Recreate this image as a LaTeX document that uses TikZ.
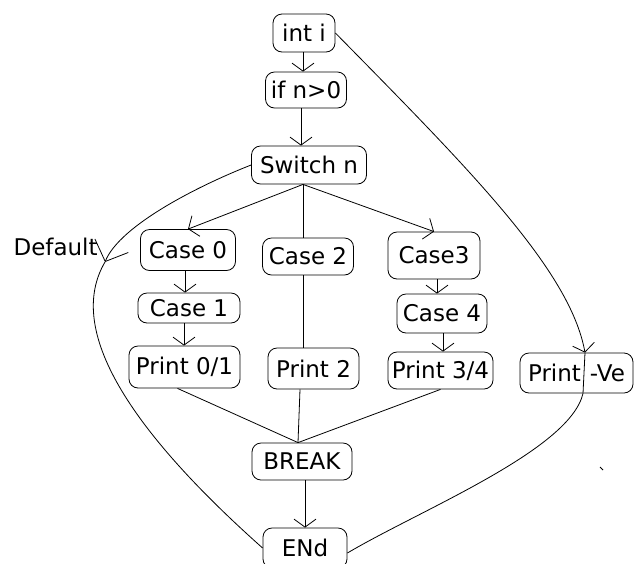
\documentclass[tikz,border=0pt]{standalone}
\usepackage{fontspec}
\setmainfont{DejaVu Sans}
\usetikzlibrary{arrows.meta}
\begin{document}
\begin{tikzpicture}[x=1pt,y=-1pt, line width=0.8pt,
  box/.style={draw, rounded corners=9pt, inner sep=0pt, font=\fontsize{23}{27}\selectfont},
  lbl/.style={inner sep=0pt, font=\fontsize{23}{27}\selectfont},
  arr/.style={-{Straight Barb[length=8pt,width=22pt]}},
  arrbig/.style={-{Straight Barb[length=17pt,width=36pt]}}]
\useasboundingbox (0,0) rectangle (634,563);
% nodes
\node[box, minimum width=62pt, minimum height=38pt] (inti) at (304,33) {int i};
\node[box, minimum width=81pt, minimum height=36pt] (ifn) at (306,90) {if n>0};
\node[box, minimum width=115pt, minimum height=38pt] (sw) at (309,165) {Switch n};
\node[box, minimum width=95pt, minimum height=41pt] (c0) at (188,250) {Case 0};
\node[box, minimum width=102pt, minimum height=30pt] (c1) at (189,308) {Case 1};
\node[box, minimum width=111pt, minimum height=42pt] (p01) at (184.5,367) {Print 0/1};
\node[box, minimum width=91pt, minimum height=37pt] (c2) at (308,256.5) {Case 2};
\node[box, minimum width=91pt, minimum height=41pt] (p2) at (313.5,368.5) {Print 2};
\node[box, minimum width=92pt, minimum height=47pt] (c3) at (434,255.5) {Case3};
\node[box, minimum width=90pt, minimum height=39pt] (c4) at (442,313.5) {Case 4};
\node[box, minimum width=105pt, minimum height=37pt] (p34) at (440.5,370.5) {Print 3/4};
\node[box, minimum width=113pt, minimum height=40pt] (pve) at (576.5,373) {Print\hspace{9pt}-Ve};
\node[box, minimum width=100pt, minimum height=37pt] (brk) at (302,461.5) {BREAK};
\node[box, minimum width=84pt, minimum height=40pt] (end) at (305,548) {ENd};
\node[lbl, anchor=east] (dl) at (98,247) {Default};
% coordinates
\coordinate (swb) at ([xshift=-6pt]sw.south);
\coordinate (bt) at ([xshift=-4pt]brk.north);
\coordinate (vt) at ([xshift=8.5pt]pve.north);
\coordinate (vb) at ([xshift=6.5pt]pve.south);
\coordinate (df) at (105,262);
% connectors
\draw[arr] ([xshift=-1pt]inti.south) -- ([xshift=-1pt]inti.south |- ifn.north);
\draw[arr] ([xshift=-5pt]ifn.south) -- ([xshift=-5pt]ifn.south |- sw.north);
\draw[arr] (swb) -- (c0.north);
\draw (swb) -- (swb |- c2.north);
\draw[arr] (swb) -- (c3.north);
\draw ([xshift=-5pt]c2.south) -- ([xshift=-5pt]c2.south |- p2.north);
\draw[arr] ([xshift=-3pt]c0.south) -- ([xshift=-3pt]c0.south |- c1.north);
\draw[arr] ([xshift=-5pt]c1.south) -- ([xshift=-5pt]c1.south |- p01.north);
\draw[arr] ([xshift=3pt]c3.south) -- ([xshift=3pt]c3.south |- c4.north);
\draw[arr] ([xshift=1pt]c4.south) -- ([xshift=1pt]c4.south |- p34.north);
\draw ([xshift=-7pt]p01.south) -- (bt);
\draw ([xshift=-13.5pt]p2.south) -- (bt);
\draw (p34.south) -- (bt);
\draw[arr] ([xshift=3pt]brk.south) -- (end.north);
\draw[arr] (inti.east) .. controls (470,170) and (570,270) .. (vt);
\draw (vt) -- (vb);
\draw (vb) .. controls (570,450) and (420,510) .. ([yshift=-5pt]end.east);
\draw[arrbig] (sw.west) .. controls (200,185) and (120,225) .. (df);
\draw (df) .. controls (65,330) and (130,430) .. (end.west);
\draw (600,467) -- (603,470);
\end{tikzpicture}
\end{document}
